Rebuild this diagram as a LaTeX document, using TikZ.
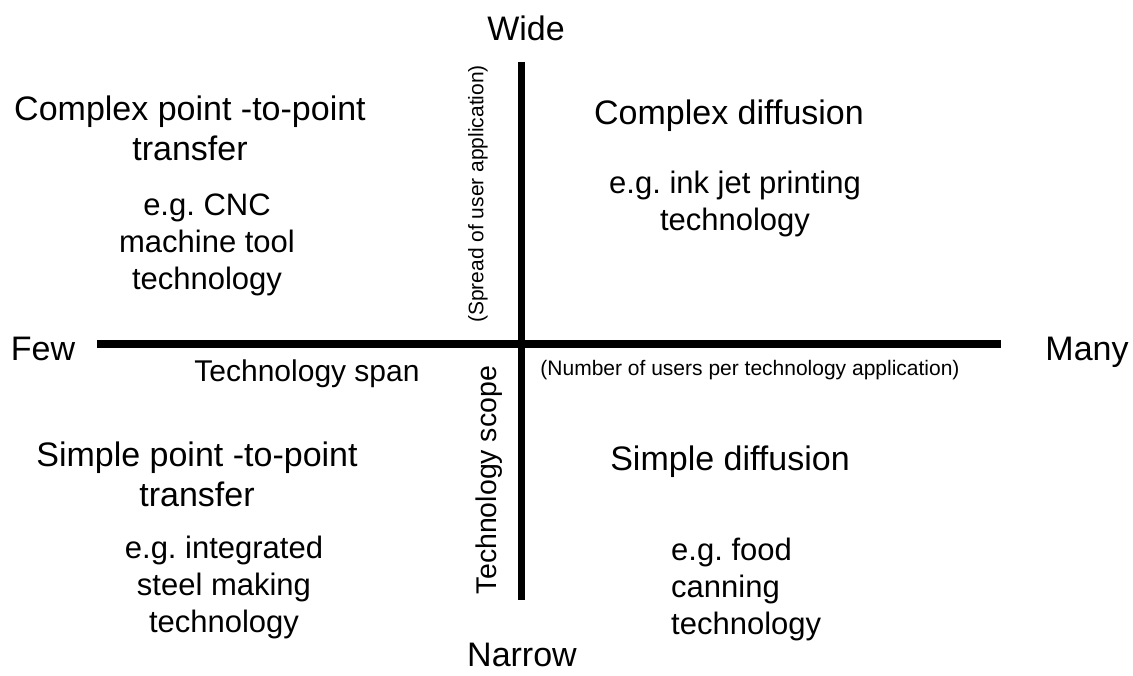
\documentclass[tikz,border=0pt]{standalone}
\usepackage{fontspec}
\setmainfont{Liberation Sans}
\frenchspacing
\begin{document}
\begin{tikzpicture}[x=1pt,y=-1pt]
  \tikzset{
    axisline/.style={line width=7.5pt},
    axislab/.style={inner sep=0pt,font=\fontsize{34}{40}\selectfont},
    quadhead/.style={inner sep=0pt,align=center,font=\fontsize{34}{40}\selectfont},
    quadex/.style={inner sep=0pt,align=center,font=\fontsize{31}{37}\selectfont},
    smalllab/.style={inner sep=0pt,font=\fontsize{21}{25}\selectfont},
  }
  \useasboundingbox (0,0) rectangle (1133,676);
  \coordinate (hl) at (97,344);
  \coordinate (hr) at (1001,344);
  \coordinate (vt) at (521,62);
  \coordinate (vb) at (521,600);
  \draw[axisline] (hl) -- (hr);
  \draw[axisline,line width=7pt] (vt) -- (vb);
  \node[axislab] (wide) at (526,28) {Wide};
  \node[axislab] (narrow) at (522,655) {Narrow};
  \node[axislab,anchor=base] (few) at (43,360) {Few};
  \node[axislab,anchor=base] (many) at (1087,360) {Many};
  \node[quadhead] (cptp) at (190,128) {Complex point -to-point\\transfer};
  \node[quadex] (cnc) at (207,245) {e.g. CNC\\machine tool\\technology};
  \node[quadhead] (cdiff) at (729,116) {Complex diffusion};
  \node[quadex] (inkjet) at (735,204) {e.g. ink jet printing\\technology};
  \node[quadhead] (sptp) at (197,474) {Simple point -to-point\\transfer};
  \node[quadex] (steel) at (224,587) {e.g. integrated\\steel making\\technology};
  \node[quadhead] (sdiff) at (730,462) {Simple diffusion};
  \node[quadex,align=left,anchor=west] (food) at (671,589) {e.g. food\\canning\\technology};
  \node[quadex,font=\fontsize{30}{36}\selectfont] (span) at (307,374) {Technology span};
  \node[smalllab] (users) at (750,370) {(Number of users per technology application)};
  \node[quadex,rotate=90,font=\fontsize{28.5}{34}\selectfont] (scope) at (489,480) {Technology scope};
  \node[smalllab,rotate=90] (spread) at (478,194) {(Spread of user application)};
\end{tikzpicture}
\end{document}
